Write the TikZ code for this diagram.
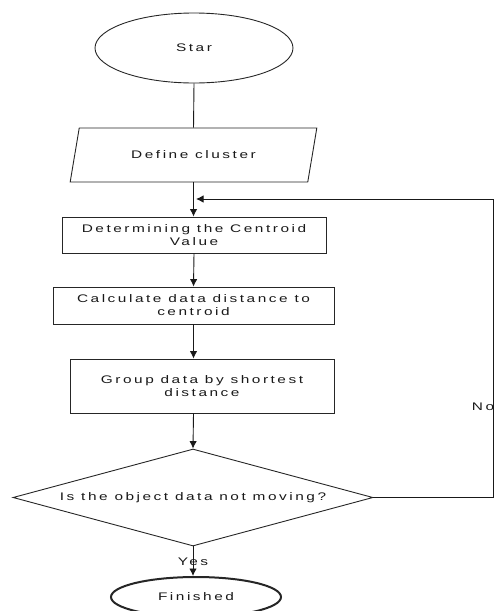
\documentclass[tikz,border=0pt]{standalone}
\usepackage{fontspec}
\setmainfont{Liberation Sans}[FakeStretch=1.4, LetterSpace=23]
\usetikzlibrary{shapes.geometric,arrows.meta,calc}
\tikzset{
  box/.style={draw=black!85, line width=0.9pt, rectangle, inner sep=0pt, align=center},
  conn/.style={draw=black!90, line width=0.9pt},
  arr/.style={conn, -{Latex[length=7.5pt,width=7.5pt]}},
  lbl/.style={text=black!90, inner sep=0pt},
}
\begin{document}
\begin{tikzpicture}[x=1pt,y=-1pt, font=\fontsize{11}{13}\selectfont, text=black!90]
\useasboundingbox (0,0) rectangle (496,611);
\clip (0,0) rectangle (496,611);
\node[box, ellipse, minimum width=198, minimum height=70] (start) at (194,48) {Star};
\node[box, trapezium, trapezium left angle=58.6, trapezium right angle=121.4, trapezium stretches=true, minimum width=247, minimum height=54] (define) at (193.5,155) {Define cluster};
\node[box, minimum width=264, minimum height=36] (det) at (194,235) {Determining the Centroid\\Value};
\node[box, minimum width=281, minimum height=37] (calc) at (193.5,305.5) {Calculate data distance to\\centroid};
\node[box, minimum width=264, minimum height=54] (group) at (202,386) {Group data by shortest\\distance};
\node[box, diamond, shape aspect=3.7, minimum width=360, minimum height=97] (dec) at (193,497.5) {Is the object data not moving?};
\node[box, ellipse, line width=2pt, minimum width=170, minimum height=40] (finish) at (196,597) {Finished};
\node[lbl] (no) at (483,407) {No};
\node[lbl] (yes) at (193,562) {Yes};
\coordinate (corner1) at (493,497.5);
\coordinate (corner2) at (493,199);
\coordinate (join) at (196,199);
\draw[conn] (start.south) -- (define.south |- define.north);
\draw[arr] (define.south) -- (define.south |- det.north);
\draw[arr] (det.south) -- (calc.north);
\draw[arr] (calc.south) -- (calc.south |- group.north);
\draw[arr] (calc.south |- group.south) -- (dec.north);
\draw[arr] (dec.south) -- (dec.south |- finish.north);
\draw[arr] (dec.east) -- (corner1) -- (corner2) -- (join);
\end{tikzpicture}
\end{document}
